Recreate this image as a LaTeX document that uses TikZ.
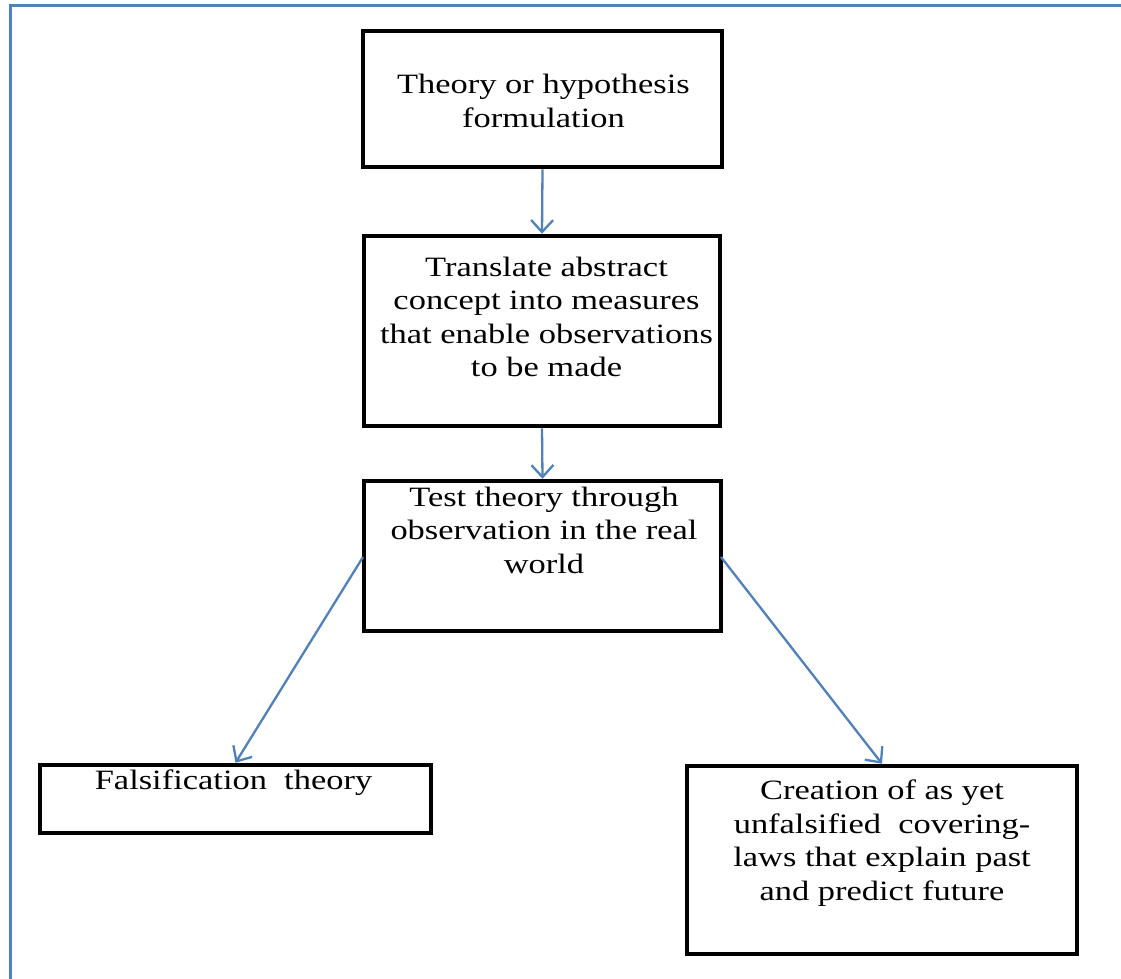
\documentclass[tikz,border=0pt]{standalone}
\usepackage{fontspec}
\setmainfont[FakeStretch=1.23]{Liberation Serif}
\usetikzlibrary{arrows.meta}
\definecolor{frameblue}{RGB}{79,129,189}
\tikzset{
  box/.style={draw=black, line width=4.5pt, minimum width=#1, inner sep=0pt, rectangle},
  txt/.style={align=center, font=\fontsize{28}{33.5}\selectfont, inner sep=0pt},
  conn/.style={draw=frameblue, line width=2.3pt, -{Straight Barb[length=12pt,width=22pt,line width=2.3pt]}},
}
\begin{document}
\begin{tikzpicture}[x=1pt,y=-1pt]
\useasboundingbox (0,0) rectangle (1121,978);
\fill[white] (0,0) rectangle (1121,978);
\draw[frameblue, line width=3pt] (10,990) -- (10,5) -- (1130,5);
% boxes
\node[box=359pt, minimum height=136pt] (b1) at (542.5,99) {};
\node[box=356pt, minimum height=190pt] (b2) at (542,331) {};
\node[box=357pt, minimum height=150pt] (b3) at (542.5,556) {};
\node[box=391pt, minimum height=68pt] (b4) at (235.5,799) {};
\node[box=390pt, minimum height=188pt] (b5) at (882,860) {};
% texts
\node[txt] (t1) at (543.5,101) {Theory or hypothesis\\formulation};
\node[txt] (t2) at (546.5,317) {Translate abstract\\concept into measures\\that enable observations\\to be made};
\node[txt] (t3) at (544,530) {Test theory through\\observation in the real\\world};
\node[txt] (t4) at (233.5,783) {Falsification\ \ theory};
\node[txt] (t5) at (882,843) {Creation of as yet\\unfalsified\ \ covering-\\laws that explain past\\and predict future};
% connectors
\draw[conn] (b1.south) -- (b2.north);
\draw[conn] (b2.south) -- (b3.north);
\coordinate (l3) at (363,557);
\coordinate (r3) at (721,557);
\draw[conn] (l3) -- (b4.north);
\draw[conn] (r3) -- (b5.north);
\end{tikzpicture}
\end{document}
